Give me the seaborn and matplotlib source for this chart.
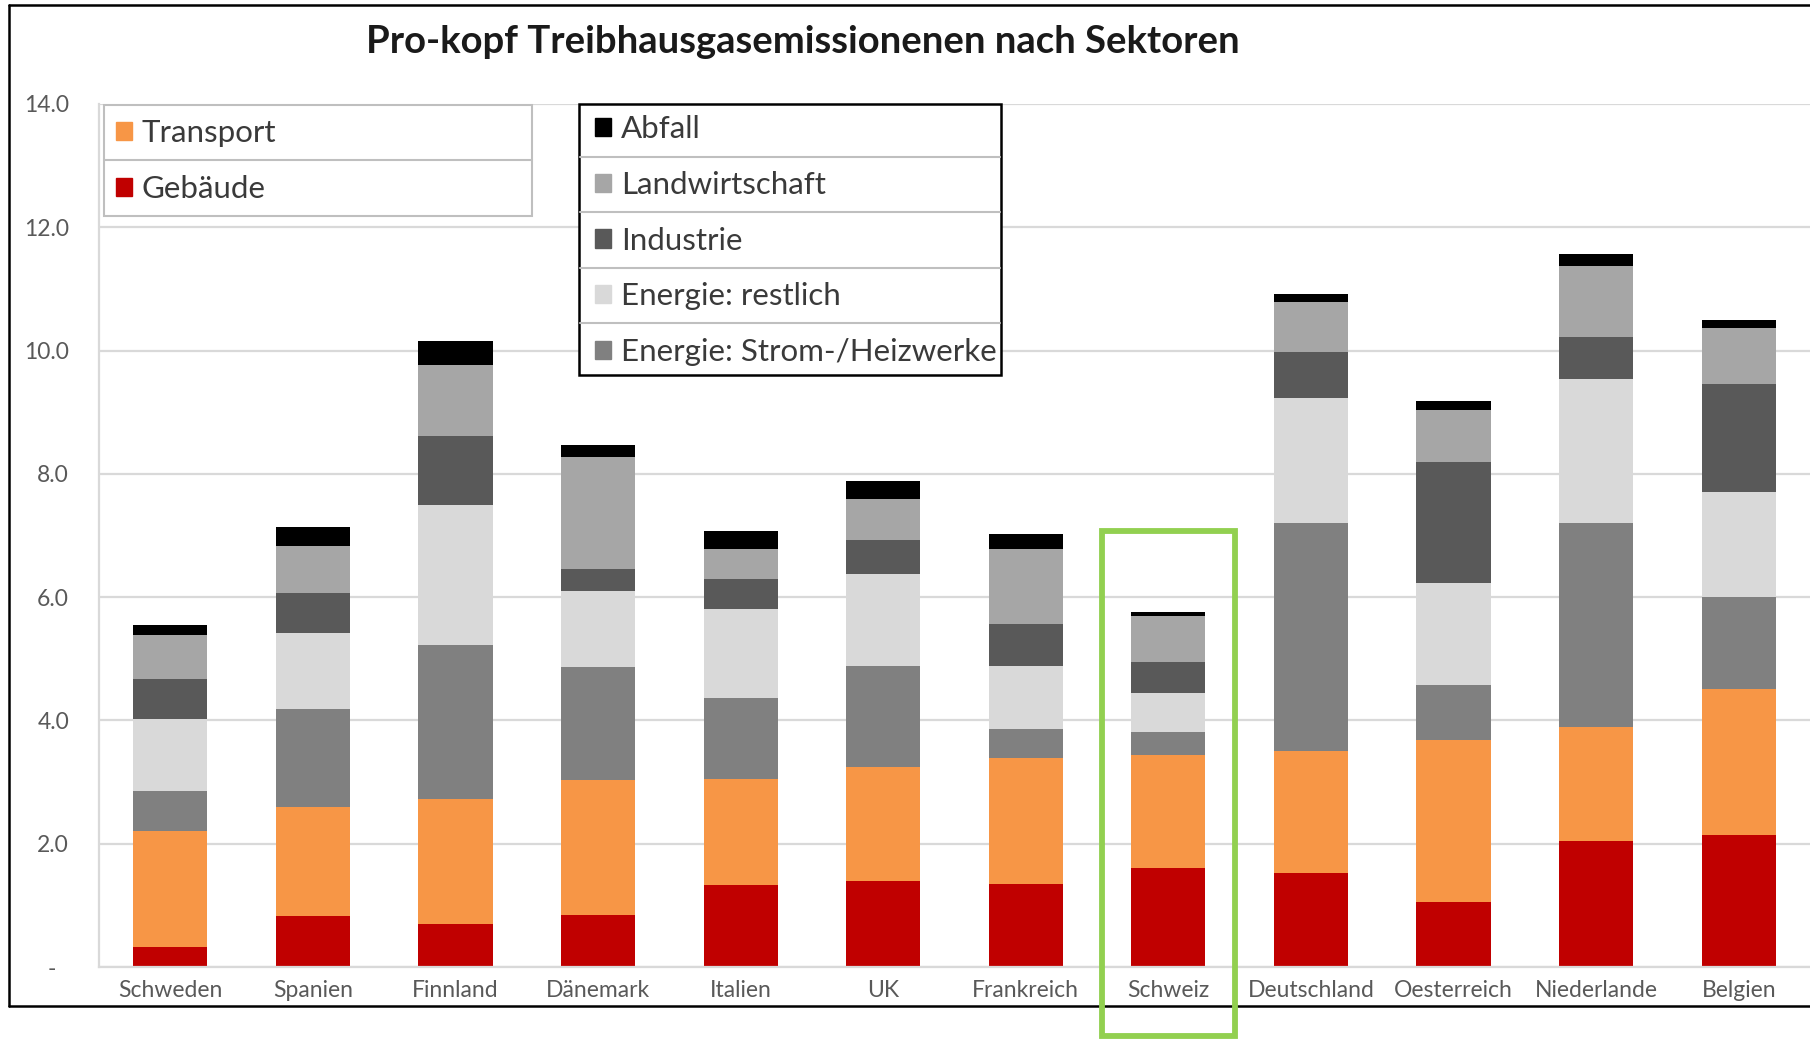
"""
Pro-Kopf Treibhausgasemissionen nach Sektoren (gestapelte Balken)
"""

import numpy as np
import pandas as pd
import matplotlib
matplotlib.use("Agg")
import matplotlib.pyplot as plt
import matplotlib.transforms as mtransforms
from matplotlib.patches import Patch, Rectangle
from matplotlib.lines import Line2D
import seaborn as sns

# ── Daten (t CO2-eq pro Kopf) ─────────────────────────────────────────────
laender = ["Schweden", "Spanien", "Finnland", "Dänemark", "Italien", "UK",
           "Frankreich", "Schweiz", "Deutschland", "Oesterreich", "Niederlande", "Belgien"]

gebaeude       = [0.33, 0.82, 0.69, 0.84, 1.33, 1.40, 1.35, 1.61, 1.53, 1.05, 2.04, 2.14]
transport      = [1.87, 1.78, 2.03, 2.19, 1.72, 1.84, 2.04, 1.83, 1.97, 2.64, 1.85, 2.37]
strom          = [0.65, 1.59, 2.51, 1.83, 1.31, 1.64, 0.47, 0.38, 3.71, 0.88, 3.32, 1.49]
restlich       = [1.17, 1.23, 2.26, 1.24, 1.44, 1.50, 1.02, 0.63, 2.02, 1.66, 2.33, 1.70]
industrie      = [0.66, 0.65, 1.12, 0.35, 0.49, 0.54, 0.68, 0.49, 0.75, 1.97, 0.68, 1.75]
landwirtschaft = [0.71, 0.76, 1.16, 1.82, 0.49, 0.68, 1.22, 0.75, 0.80, 0.84, 1.15, 0.91]
abfall         = [0.16, 0.30, 0.39, 0.20, 0.29, 0.28, 0.24, 0.07, 0.13, 0.15, 0.20, 0.14]

# von unten nach oben
sektoren = [
    ("Gebäude", gebaeude, "#C00000"),
    ("Transport", transport, "#F79646"),
    ("Energie: Strom-/Heizwerke", strom, "#808080"),
    ("Energie: restlich", restlich, "#D9D9D9"),
    ("Industrie", industrie, "#595959"),
    ("Landwirtschaft", landwirtschaft, "#A6A6A6"),
    ("Abfall", abfall, "#000000"),
]
hervorgehoben = "Schweiz"

W, H = 1810, 1041
GRID = "#D9D9D9"
TXT = "#595959"

sns.set_theme(style="white")
plt.rcParams["font.family"] = ["Lato", "DejaVu Sans"]


def fx(x):
    return x / W


def fy(y):
    return 1 - y / H


fig = plt.figure(figsize=(W / 100, H / 100), dpi=100)
ax = fig.add_axes([fx(99), fy(967), 1 - fx(99), (967 - 104) / H])

# ── Gestapelte Balken ─────────────────────────────────────────────────────
bottom = np.zeros(len(laender))
for name, werte, farbe in sektoren:
    df = pd.DataFrame({"Land": laender, "Wert": werte})
    sns.barplot(data=df, x="Land", y="Wert", order=laender, color=farbe,
                saturation=1, width=0.52, bottom=bottom, linewidth=0,
                errorbar=None, ax=ax)
    bottom = bottom + np.array(werte)

ax.set_xlim(-0.5, len(laender) - 0.5)
ax.set_ylim(0, 14)
ax.set_xlabel("")
ax.set_ylabel("")

# ── Achsen ────────────────────────────────────────────────────────────────
yticks = np.arange(0, 15, 2)
ax.set_yticks(yticks)
ax.set_yticklabels(["-"] + [f"{v:.1f}" for v in yticks[1:]])
ax.yaxis.grid(True, color=GRID, lw=1.6)
ax.set_axisbelow(True)
ax.tick_params(axis="y", length=0, pad=21.6, labelsize=16.5, labelcolor=TXT)
ax.tick_params(axis="x", which="major", length=0, pad=9.5, labelsize=16.5, labelcolor=TXT)
ax.set_xticks(np.arange(-0.5, len(laender), 1), minor=True)
ax.tick_params(axis="x", which="minor", length=28, width=1.2, color=GRID, direction="out")
for s in ["top", "right"]:
    ax.spines[s].set_visible(False)
for s in ["left", "bottom"]:
    ax.spines[s].set_color(GRID)
    ax.spines[s].set_linewidth(1.6)

# "-" bei null sitzt weiter links (Buchhaltungsformat)
null_label = ax.yaxis.get_major_ticks()[0].label1
null_label.set_transform(null_label.get_transform()
                         + mtransforms.ScaledTranslation(-13 / 100, 0, fig.dpi_scale_trans))

# ── Titel ─────────────────────────────────────────────────────────────────
fig.text(fx(803), fy(42), "Pro-kopf Treibhausgasemissionenen nach Sektoren",
         ha="center", va="center", fontsize=27.5, fontweight="bold", color="#1A1A1A")

# ── Rahmen ────────────────────────────────────────────────────────────────
for xs, ys in [([9, 9], [5, 1006]), ([9, W], [5, 5]), ([9, W], [1006, 1006])]:
    fig.add_artist(Line2D([fx(v) for v in xs], [fy(v) for v in ys],
                          color="black", lw=1.8, zorder=2))

# ── Legenden (Tabellenoptik) ──────────────────────────────────────────────
fig.add_artist(Rectangle((fx(104), fy(216)), (532 - 104) / W, (216 - 105) / H,
                         transform=fig.transFigure, facecolor="white",
                         edgecolor="#BFBFBF", lw=1.5, zorder=3))
fig.add_artist(Line2D([fx(104), fx(532)], [fy(160), fy(160)], color="#BFBFBF", lw=1.5, zorder=4))

fig.add_artist(Rectangle((fx(579), fy(375)), (1001 - 579) / W, (375 - 104) / H,
                         transform=fig.transFigure, facecolor="white",
                         edgecolor="black", lw=1.8, zorder=3))
for y in [157, 212, 268, 323]:
    fig.add_artist(Line2D([fx(580), fx(1000)], [fy(y), fy(y)], color="#BFBFBF", lw=1.5, zorder=4))

farben = {name: farbe for name, _, farbe in sektoren}
leg_kw = dict(loc="upper left", frameon=False, fontsize=22.5, labelspacing=0.89,
              handlelength=0.52, handleheight=0.52, handletextpad=0.3,
              borderpad=0, borderaxespad=0, labelcolor="#3A3A3A")

gruppe1 = ["Transport", "Gebäude"]
gruppe2 = ["Abfall", "Landwirtschaft", "Industrie", "Energie: restlich", "Energie: Strom-/Heizwerke"]

fig.legend(handles=[Patch(color=farben[n]) for n in gruppe1], labels=gruppe1,
           bbox_to_anchor=(fx(116), fy(119)), **leg_kw)
fig.legend(handles=[Patch(color=farben[n]) for n in gruppe2], labels=gruppe2,
           bbox_to_anchor=(fx(595), fy(115)), **leg_kw)

# ── Markierung Schweiz ────────────────────────────────────────────────────
i = laender.index(hervorgehoben)
fig.add_artist(Rectangle((i - 0.465, -1.12), 0.93, 7.07 + 1.12, transform=ax.transData,
                         fill=False, edgecolor="#92D050", lw=4.2, zorder=6))

fig.savefig("out.png", dpi=100)
